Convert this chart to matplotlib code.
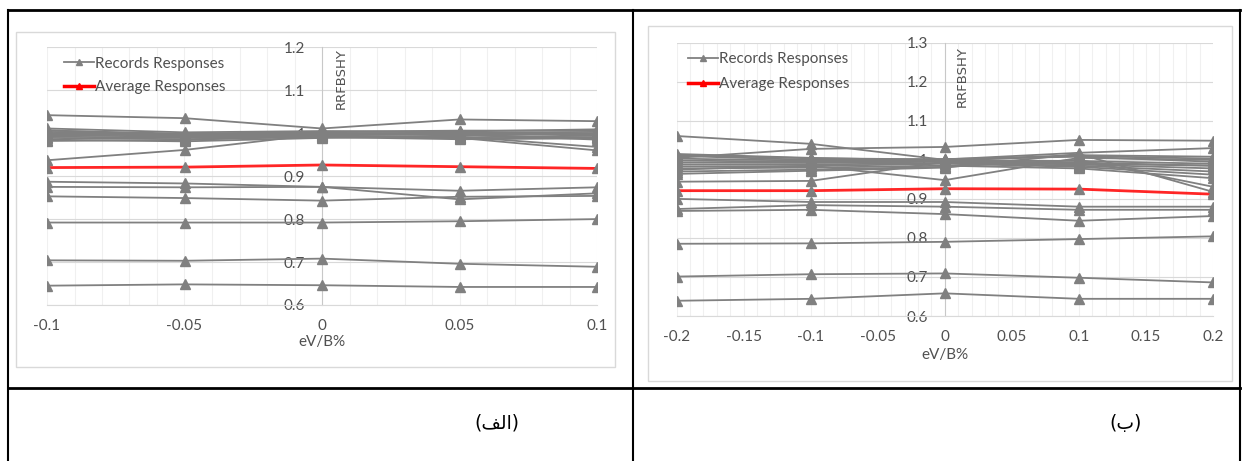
import matplotlib
matplotlib.use("Agg")
import matplotlib.pyplot as plt
from matplotlib.lines import Line2D
from matplotlib.patches import Rectangle
from matplotlib.ticker import MultipleLocator, FormatStrFormatter

plt.rcParams['font.family'] = ['Lato', 'Liberation Sans', 'DejaVu Sans']

# ---- data, panel (a): eV/B% in -0.1..0.1
x_a = [-0.1, -0.05, 0, 0.05, 0.1]
records_a = [
    [1.042, 1.035, 1.011, 1.032, 1.028],
    [0.937, 0.961, 0.998, 0.995, 0.990],
    [1.011, 1.002, 1.005, 1.004, 1.009],
    [1.006, 0.999, 1.003, 1.006, 1.006],
    [1.003, 0.997, 1.000, 1.001, 1.003],
    [1.000, 0.996, 0.998, 0.999, 1.000],
    [0.998, 0.994, 0.996, 0.997, 0.998],
    [0.995, 0.992, 0.994, 0.990, 0.995],
    [0.992, 0.989, 0.993, 0.988, 0.991],
    [0.989, 0.986, 0.991, 0.986, 0.988],
    [0.985, 0.981, 0.989, 0.992, 0.968],
    [0.982, 0.984, 0.995, 0.989, 0.960],
    [1.007, 0.995, 1.001, 0.998, 0.985],
    [0.887, 0.883, 0.875, 0.866, 0.874],
    [0.875, 0.874, 0.875, 0.846, 0.860],
    [0.853, 0.849, 0.843, 0.852, 0.854],
    [0.792, 0.792, 0.792, 0.795, 0.800],
    [0.704, 0.703, 0.708, 0.696, 0.689],
    [0.645, 0.648, 0.646, 0.642, 0.642],
]
average_a = [0.920, 0.921, 0.926, 0.922, 0.918]

# ---- data, panel (b): eV/B% in -0.2..0.2
x_b = [-0.2, -0.1, 0, 0.1, 0.2]
records_b = [
    [1.061, 1.041, 1.000, 1.012, 1.008],
    [1.005, 1.028, 1.033, 1.051, 1.049],
    [1.012, 1.004, 1.001, 1.018, 1.030],
    [0.944, 0.946, 0.995, 0.990, 0.985],
    [0.975, 0.985, 0.948, 1.005, 1.000],
    [1.015, 1.005, 0.998, 1.010, 1.003],
    [1.010, 1.000, 1.002, 1.008, 0.995],
    [1.003, 0.998, 0.999, 0.997, 0.990],
    [0.998, 0.995, 0.997, 0.993, 0.985],
    [0.993, 0.992, 0.995, 0.988, 0.978],
    [0.988, 0.988, 0.992, 0.985, 0.970],
    [0.983, 0.984, 0.990, 0.982, 0.962],
    [0.978, 0.980, 0.985, 0.978, 0.953],
    [0.970, 0.975, 0.982, 1.000, 0.931],
    [0.964, 0.972, 0.980, 1.015, 0.918],
    [0.900, 0.892, 0.892, 0.880, 0.880],
    [0.874, 0.884, 0.880, 0.872, 0.872],
    [0.869, 0.872, 0.861, 0.844, 0.856],
    [0.785, 0.786, 0.790, 0.797, 0.804],
    [0.701, 0.707, 0.709, 0.698, 0.686],
    [0.639, 0.644, 0.658, 0.644, 0.644],
]
average_b = [0.921, 0.921, 0.926, 0.925, 0.912]

W, H = 1247, 461
GRAY = '#808080'
RED = '#ff0000'
TXT = '#505050'

fig = plt.figure(figsize=(W / 100, H / 100), dpi=100)


def px_box(x0, y0, x1, y1):
    # pixel box (top-left origin) -> figure fraction rect
    return [x0 / W, 1 - y1 / H, (x1 - x0) / W, (y1 - y0) / H]


def fline(x0, y0, x1, y1, lw=1.5):
    fig.add_artist(Line2D([x0 / W, x1 / W], [1 - y0 / H, 1 - y1 / H],
                          color='black', lw=lw, transform=fig.transFigure))


def chart(rect, frame, x, records, average, xlim, ylim, xlab_y, leg_anchor, leg_space, ylab_pos):
    fig.add_artist(Rectangle((frame[0] / W, 1 - frame[3] / H),
                             (frame[2] - frame[0]) / W, (frame[3] - frame[1]) / H,
                             transform=fig.transFigure, fill=False,
                             edgecolor='#d9d9d9', lw=1))
    ax = fig.add_axes(rect)
    ax.set_facecolor('none')
    ax.plot(x, average, color=RED, lw=2, alpha=0.85, zorder=2)
    for r in records:
        ax.plot(x, r, color=GRAY, lw=1.3, marker='^', ms=6.5, zorder=3)
    ax.plot(x, average, ls='none', marker='^', ms=6.5, color=GRAY, zorder=3)

    ax.set_xlim(*xlim)
    ax.set_ylim(*ylim)
    ax.xaxis.set_major_locator(MultipleLocator(0.05))
    ax.xaxis.set_minor_locator(MultipleLocator(0.01))
    ax.yaxis.set_major_locator(MultipleLocator(0.1))
    ax.xaxis.set_major_formatter(FormatStrFormatter('%g'))
    ax.yaxis.set_major_formatter(FormatStrFormatter('%g'))
    ax.grid(which='both', axis='x', color='#f0f0f0', lw=0.8, zorder=0)
    ax.grid(which='major', axis='y', color='#d9d9d9', lw=0.8, zorder=0)
    ax.set_axisbelow(True)

    for s in ('top', 'right'):
        ax.spines[s].set_visible(False)
    ax.spines['left'].set_position(('data', 0))
    ax.spines['left'].set_color('#c8c8c8')
    ax.spines['bottom'].set_color('#d9d9d9')
    ax.tick_params(which='both', length=0, labelcolor=TXT, labelsize=11)
    ax.tick_params(axis='y', pad=12)
    ax.tick_params(axis='x', pad=10)

    ax.text(0.5, xlab_y, 'eV/B%', transform=ax.transAxes, ha='center', va='center',
            color=TXT, fontsize=11)
    ax.text(ylab_pos[0], ylab_pos[1], 'RRFBSHY', transform=ax.transAxes, rotation=90,
            ha='center', va='center', color=TXT, fontsize=9.5, family=['DejaVu Sans'])

    handles = [Line2D([], [], color=GRAY, lw=1.3, marker='^', ms=5),
               Line2D([], [], color=RED, lw=2.5, marker='^', ms=5)]
    leg = ax.legend(handles, ['Records Responses', 'Average Responses'],
                    loc='upper left', bbox_to_anchor=leg_anchor, frameon=False,
                    borderpad=0, borderaxespad=0, handlelength=1.95, handletextpad=0.1,
                    labelspacing=leg_space, fontsize=11)
    for t in leg.get_texts():
        t.set_color(TXT)
    return ax


chart(px_box(47, 47.3, 597, 305), (15.5, 32, 615, 367), x_a, records_a, average_a,
      (-0.1, 0.1), (0.6, 1.2), -0.145, (0.031, 0.963), 0.6, (0.535, 0.878))
chart(px_box(676.5, 42.7, 1213, 316), (647.7, 26, 1232, 380.7), x_b, records_b, average_b,
      (-0.2, 0.2), (0.6, 1.3), -0.143, (0.021, 0.966), 0.72, (0.533, 0.875))

# table borders
fline(8, 10, 1240, 10, 2)
fline(8, 388, 1240, 388, 2)
fline(8, 10, 8, 461)
fline(633, 10, 633, 461)
fline(1240, 10, 1240, 461)

# captions; Arabic glyphs given in presentation forms in visual order, since matplotlib has no bidi shaping
fig.text(497 / W, 1 - 423 / H, '(\ufed2\ufedf\u0627)', ha='center', va='center',
         fontsize=13.5, family=['DejaVu Sans'])
fig.text(1126 / W, 1 - 423 / H, '(\u0628)', ha='center', va='center',
         fontsize=13.5, family=['DejaVu Sans'])

fig.savefig('out.png', dpi=100)
